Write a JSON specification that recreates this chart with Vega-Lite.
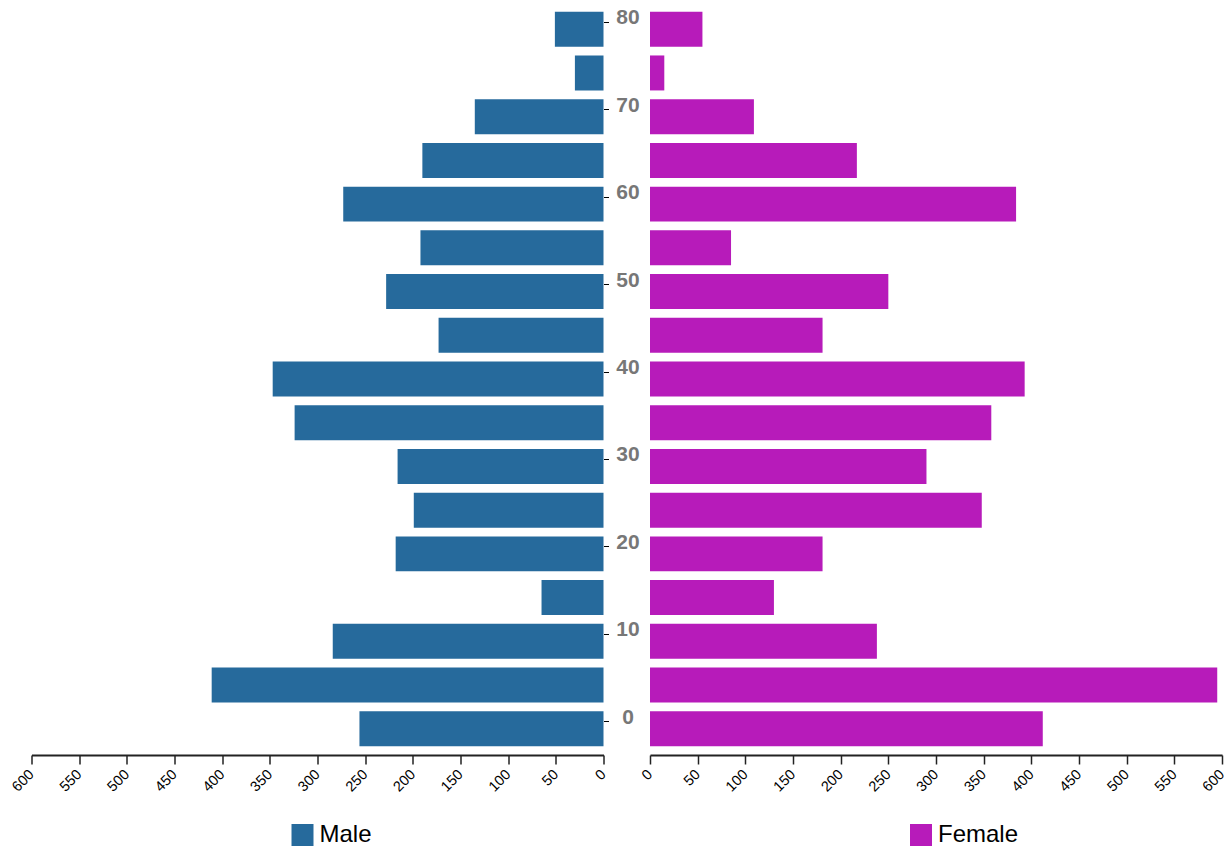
{
  "$schema": "https://vega.github.io/schema/vega-lite/v6.json",
  "padding": {"left": 8.5, "top": 3, "right": 0, "bottom": 0},
  "bounds": "flush",
  "spacing": 46.5,
  "config": {
    "view": {"stroke": null},
    "axisX": {
      "grid": false,
      "title": null,
      "domainColor": "#222",
      "domainWidth": 2,
      "tickColor": "#222",
      "tickWidth": 1.5,
      "tickSize": 9,
      "labelAngle": -45,
      "labelAlign": "right",
      "labelBaseline": "middle",
      "labelPadding": 8,
      "labelFont": "Liberation Sans",
      "labelFontSize": 14.5,
      "labelColor": "#000",
      "values": [0, 50, 100, 150, 200, 250, 300, 350, 400, 450, 500, 550, 600]
    }
  },
  "data": {
    "values": [
      {"age": 0, "sex": "Male", "value": 256},
      {"age": 5, "sex": "Male", "value": 411},
      {"age": 10, "sex": "Male", "value": 284},
      {"age": 15, "sex": "Male", "value": 65},
      {"age": 20, "sex": "Male", "value": 218},
      {"age": 25, "sex": "Male", "value": 199},
      {"age": 30, "sex": "Male", "value": 216},
      {"age": 35, "sex": "Male", "value": 324},
      {"age": 40, "sex": "Male", "value": 347},
      {"age": 45, "sex": "Male", "value": 173},
      {"age": 50, "sex": "Male", "value": 228},
      {"age": 55, "sex": "Male", "value": 192},
      {"age": 60, "sex": "Male", "value": 273},
      {"age": 65, "sex": "Male", "value": 190},
      {"age": 70, "sex": "Male", "value": 135},
      {"age": 75, "sex": "Male", "value": 30},
      {"age": 80, "sex": "Male", "value": 51},
      {"age": 0, "sex": "Female", "value": 412},
      {"age": 5, "sex": "Female", "value": 595},
      {"age": 10, "sex": "Female", "value": 238},
      {"age": 15, "sex": "Female", "value": 130},
      {"age": 20, "sex": "Female", "value": 181},
      {"age": 25, "sex": "Female", "value": 348},
      {"age": 30, "sex": "Female", "value": 290},
      {"age": 35, "sex": "Female", "value": 358},
      {"age": 40, "sex": "Female", "value": 393},
      {"age": 45, "sex": "Female", "value": 181},
      {"age": 50, "sex": "Female", "value": 250},
      {"age": 55, "sex": "Female", "value": 85},
      {"age": 60, "sex": "Female", "value": 384},
      {"age": 65, "sex": "Female", "value": 217},
      {"age": 70, "sex": "Female", "value": 109},
      {"age": 75, "sex": "Female", "value": 15},
      {"age": 80, "sex": "Female", "value": 55}
    ]
  },
  "resolve": {"scale": {"color": "independent"}, "legend": {"color": "independent"}},
  "hconcat": [
    {
      "width": 572,
      "height": 752,
      "transform": [{"filter": "datum.sex === 'Male'"}],
      "mark": {"type": "bar"},
      "encoding": {
        "y": {
          "field": "age",
          "type": "ordinal",
          "sort": "descending",
          "scale": {"paddingInner": 0.2, "paddingOuter": 0.2},
          "axis": {
            "orient": "right",
            "values": [0, 10, 20, 30, 40, 50, 60, 70, 80],
            "bandPosition": 0.3,
            "domain": false,
            "ticks": true,
            "tickSize": 5,
            "tickColor": "#000",
            "tickWidth": 1,
            "labelPadding": 19,
            "labelAlign": "center",
            "labelBaseline": "middle",
            "labelOffset": -11,
            "labelFont": "Liberation Sans",
            "labelFontSize": 21,
            "labelFontWeight": "bold",
            "labelColor": "#777",
            "title": null,
            "grid": false
          }
        },
        "x": {
          "field": "value",
          "type": "quantitative",
          "scale": {"domain": [0, 600], "reverse": true, "nice": false}
        },
        "color": {
          "field": "sex",
          "type": "nominal",
          "scale": {"domain": ["Male"], "range": ["#266a9c"]},
          "legend": {
            "orient": "none",
            "legendX": 259,
            "legendY": 820,
            "title": null,
            "padding": 0,
            "symbolType": "square",
            "symbolSize": 484,
            "symbolStrokeWidth": 0,
            "symbolOpacity": 1,
            "labelFont": "Liberation Sans",
            "labelFontSize": 24,
            "labelColor": "#000",
            "labelOffset": 5
          }
        }
      }
    },
    {
      "width": 572,
      "height": 752,
      "transform": [{"filter": "datum.sex === 'Female'"}],
      "mark": {"type": "bar"},
      "encoding": {
        "y": {
          "field": "age",
          "type": "ordinal",
          "sort": "descending",
          "scale": {"paddingInner": 0.2, "paddingOuter": 0.2},
          "axis": null
        },
        "x": {
          "field": "value",
          "type": "quantitative",
          "scale": {"domain": [0, 600], "nice": false}
        },
        "color": {
          "field": "sex",
          "type": "nominal",
          "scale": {"domain": ["Female"], "range": ["#b71bba"]},
          "legend": {
            "orient": "none",
            "legendX": 259,
            "legendY": 820,
            "title": null,
            "padding": 0,
            "symbolType": "square",
            "symbolSize": 484,
            "symbolStrokeWidth": 0,
            "symbolOpacity": 1,
            "labelFont": "Liberation Sans",
            "labelFontSize": 24,
            "labelColor": "#000",
            "labelOffset": 5
          }
        }
      }
    }
  ]
}
